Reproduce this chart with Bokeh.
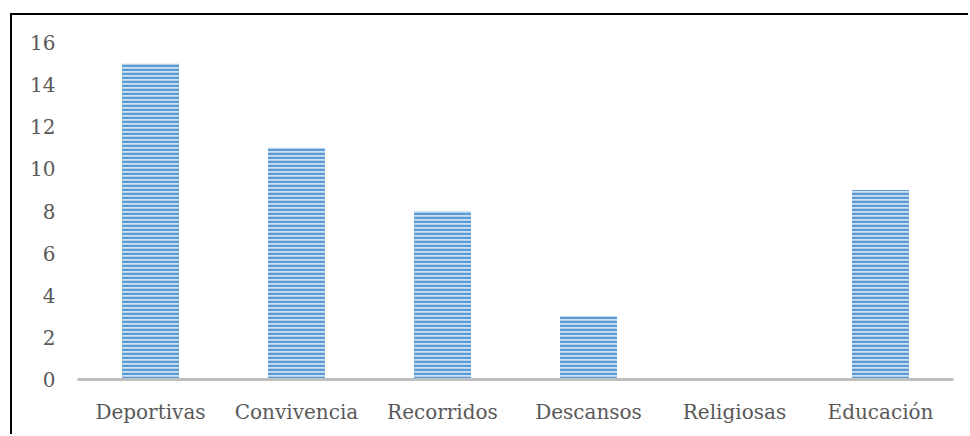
from bokeh.plotting import figure
from bokeh.models import FixedTicker, ColumnDataSource
from bokeh.embed import file_html
from bokeh.resources import INLINE

# Activity categories and their counts
categories = ["Deportivas", "Convivencia", "Recorridos", "Descansos", "Religiosas", "Educación"]
counts = [15, 11, 8, 3, 0, 9]
y_ticks = [0, 2, 4, 6, 8, 10, 12, 14, 16]

source = ColumnDataSource(data=dict(cat=categories, n=counts))

p = figure(
    x_range=categories,
    y_range=(0, 16),
    width=958,
    height=421,
    output_backend="svg",
    toolbar_location=None,
    min_border_left=65,
    min_border_right=17,
    min_border_top=27,
    min_border_bottom=57,
)
p.styles = {
    "margin-left": "10px",
    "margin-top": "13px",
    "border-left": "2px solid black",
    "border-top": "2px solid black",
}

p.vbar(
    x="cat", top="n", width=0.39, source=source,
    fill_color="#cfe1f4", line_color=None,
    hatch_pattern="horizontal_line", hatch_color="#5b9bd5",
    hatch_scale=4, hatch_weight=2.5,
)

p.outline_line_color = None
p.xgrid.grid_line_color = None
p.ygrid.grid_line_color = None

label_font = "DejaVu Serif"
label_color = "#595959"

p.yaxis.ticker = FixedTicker(ticks=y_ticks)
p.yaxis.axis_line_color = None
p.yaxis.major_tick_line_color = None
p.yaxis.minor_tick_line_color = None
p.yaxis.major_tick_out = 0
p.yaxis.major_tick_in = 0
p.yaxis.major_label_standoff = 22
p.yaxis.major_label_text_font = label_font
p.yaxis.major_label_text_font_size = "20px"
p.yaxis.major_label_text_color = label_color

p.xaxis.axis_line_color = "#bfbfbf"
p.xaxis.axis_line_width = 3
p.xaxis.major_tick_line_color = None
p.xaxis.minor_tick_line_color = None
p.xaxis.major_tick_out = 0
p.xaxis.major_tick_in = 0
p.xaxis.major_label_standoff = 20
p.xaxis.major_label_text_font = label_font
p.xaxis.major_label_text_font_size = "20px"
p.xaxis.major_label_text_color = label_color

p.x_range.range_padding = 0

open("out.html", "w").write(file_html(p, INLINE))
